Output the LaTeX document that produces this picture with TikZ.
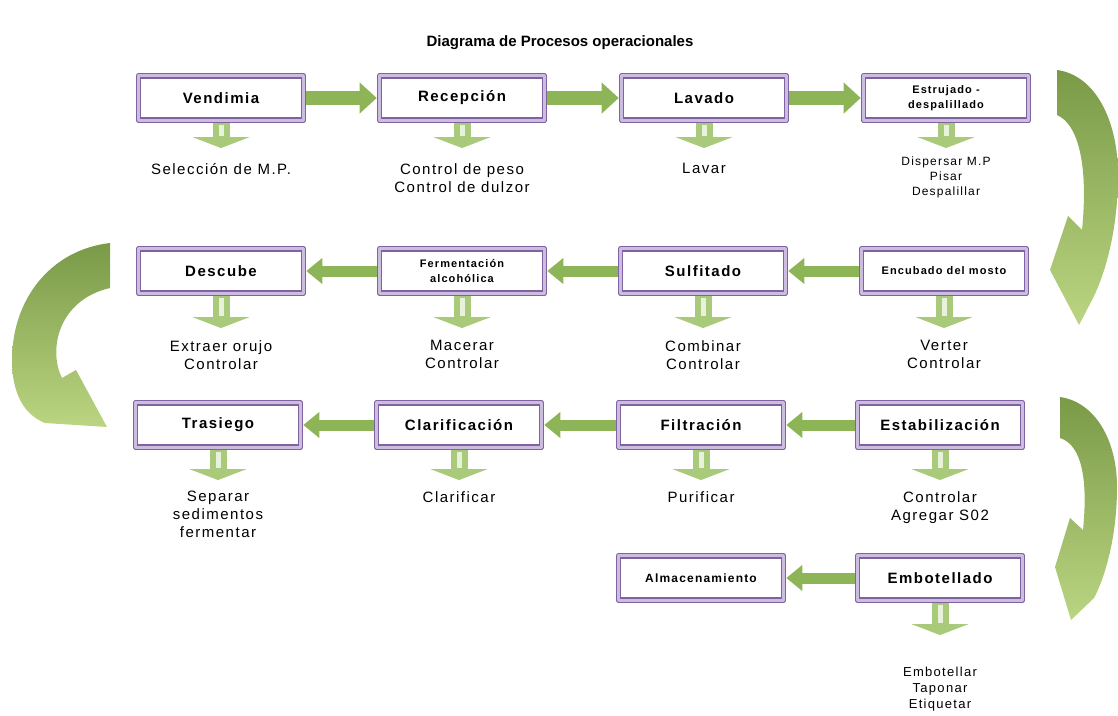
\documentclass[tikz,border=0pt]{standalone}
\usepackage{fontspec}
\setmainfont{Liberation Sans}
\newfontfamily\espaciada[LetterSpace=10]{Liberation Sans}
\usetikzlibrary{arrows.meta,positioning}
\definecolor{morado}{HTML}{7F63A1}
\definecolor{lavanda}{HTML}{CBBCE0}
\definecolor{verde}{HTML}{8DB456}
\definecolor{verdeclaro}{HTML}{A9CA7B}
\definecolor{verdepalido}{HTML}{E8F1D9}
\definecolor{verdeoscuro}{HTML}{7A9A48}
\definecolor{verdeluz}{HTML}{BBD582}
\tikzset{
  caja/.style={draw=morado, line width=1.5pt, double=lavanda, double distance=2.6pt, fill=white,
    minimum width=165pt, minimum height=44.5pt, inner sep=1pt, outer sep=2.8pt, align=center,
    font=\espaciada\bfseries\fontsize{15}{17}\selectfont},
  cajita/.style={caja, font=\espaciada\bfseries\fontsize{11}{15}\selectfont},
  rotulo/.style={align=center, inner sep=0pt, font=\espaciada\fontsize{15}{18}\selectfont},
  rotulito/.style={rotulo, font=\espaciada\fontsize{12}{15}\selectfont},
  derecha/.style={draw=verde, line width=14pt, -{Triangle[width=30pt,length=17pt]}},
  izquierda/.style={draw=verde, line width=11pt, -{Triangle[width=25pt,length=16pt]}},
  bajada/.style={draw=verdeclaro, line width=17pt, -{Triangle[width=57pt,length=11pt]}, shorten >=#1},
  franja/.style={draw=verdepalido, line width=5pt, shorten >=#1, shorten <=2pt},
  curva/.style={top color=verdeoscuro, bottom color=verdeluz},
}
\begin{document}
\begin{tikzpicture}[x=1pt, y=-1pt, line join=round]
  \useasboundingbox (0,0) rectangle (1118,715);
  \node[font=\bfseries\fontsize{15}{17}\selectfont] (titulo) at (560,43) {Diagrama de Procesos operacionales};

  % fila 1
  \node[caja] (vend) at (221,98) {Vendimia};
  \node[caja] (rece) at (462,98) {Recepción};
  \node[caja] (lava) at (704,98) {Lavado};
  \node[cajita] (estr) at (946,98) {Estrujado -\\despalillado};
  \node[rotulo, below=40pt of vend] (vendl) {Selección de M.P.};
  \node[rotulo, below=40pt of rece] (recel) {Control de peso\\Control de dulzor};
  \node[rotulo, below=40pt of lava] (laval) {Lavar};
  \node[rotulito, below=34pt of estr] (estrl) {Dispersar M.P\\Pisar\\Despalillar};

  % fila 2
  \node[caja] (desc) at (221,271) {Descube};
  \node[cajita] (ferm) at (462,271) {Fermentación\\alcohólica};
  \node[caja] (sulf) at (703,271) {Sulfitado};
  \node[cajita] (encu) at (944,271) {Encubado del mosto};
  \node[rotulo, below=44pt of desc] (descl) {Extraer orujo\\Controlar};
  \node[rotulo, below=44pt of ferm] (ferml) {Macerar\\Controlar};
  \node[rotulo, below=44pt of sulf] (sulfl) {Combinar\\Controlar};
  \node[rotulo, below=44pt of encu] (encul) {Verter\\Controlar};

  % fila 3
  \node[caja] (tras) at (218,425) {Trasiego};
  \node[caja] (clar) at (459,425) {Clarificación};
  \node[caja] (filt) at (701,425) {Filtración};
  \node[caja] (esta) at (940,425) {Estabilización};
  \node[rotulo, below=41pt of tras] (trasl) {Separar\\sedimentos\\fermentar};
  \node[rotulo, below=41pt of clar] (clarl) {Clarificar};
  \node[rotulo, below=41pt of filt] (filtl) {Purificar};
  \node[rotulo, below=41pt of esta] (estal) {Controlar\\Agregar S02};

  % fila 4
  \node[cajita, font=\espaciada\bfseries\fontsize{12}{14}\selectfont] (alma) at (701,578) {Almacenamiento};
  \node[caja] (embo) at (940,578) {Embotellado};
  \node[rotulo, font=\espaciada\fontsize{13}{16}\selectfont, below=64pt of embo] (embol) {Embotellar\\Taponar\\Etiquetar};

  % flechas entre etapas
  \draw[derecha] (vend) -- (rece);
  \draw[derecha] (rece) -- (lava);
  \draw[derecha] (lava) -- (estr);
  \draw[izquierda] (encu) -- (sulf);
  \draw[izquierda] (sulf) -- (ferm);
  \draw[izquierda] (ferm) -- (desc);
  \draw[izquierda] (esta) -- (filt);
  \draw[izquierda] (filt) -- (clar);
  \draw[izquierda] (clar) -- (tras);
  \draw[izquierda] (embo) -- (alma);

  % flechas hacia las tareas
  \draw[bajada=15pt] (vend.south) -- (vendl.north);
  \draw[franja=27pt] (vend.south) -- (vendl.north);
  \draw[bajada=15pt] (rece.south) -- (recel.north);
  \draw[franja=27pt] (rece.south) -- (recel.north);
  \draw[bajada=15pt] (lava.south) -- (laval.north);
  \draw[franja=27pt] (lava.south) -- (laval.north);
  \draw[bajada=9pt] (estr.south) -- (estrl.north);
  \draw[franja=21pt] (estr.south) -- (estrl.north);
  \draw[bajada=12pt] (desc.south) -- (descl.north);
  \draw[franja=24pt] (desc.south) -- (descl.north);
  \draw[bajada=12pt] (ferm.south) -- (ferml.north);
  \draw[franja=24pt] (ferm.south) -- (ferml.north);
  \draw[bajada=12pt] (sulf.south) -- (sulfl.north);
  \draw[franja=24pt] (sulf.south) -- (sulfl.north);
  \draw[bajada=12pt] (encu.south) -- (encul.north);
  \draw[franja=24pt] (encu.south) -- (encul.north);
  \draw[bajada=11pt] (tras.south) -- (trasl.north);
  \draw[franja=23pt] (tras.south) -- (trasl.north);
  \draw[bajada=11pt] (clar.south) -- (clarl.north);
  \draw[franja=23pt] (clar.south) -- (clarl.north);
  \draw[bajada=11pt] (filt.south) -- (filtl.north);
  \draw[franja=23pt] (filt.south) -- (filtl.north);
  \draw[bajada=11pt] (esta.south) -- (estal.north);
  \draw[franja=23pt] (esta.south) -- (estal.north);
  \draw[bajada=32pt] (embo.south) -- (embol.north);
  \draw[franja=44pt] (embo.south) -- (embol.north);

  % flechas curvas de cambio de fila
  \shade[curva]
    (1057,70) .. controls (1095,75) and (1118,120) .. (1118,175)
    .. controls (1118,230) and (1105,275) .. (1092,300) -- (1079,325) -- (1050,270)
    -- (1068,216) -- (1082,230) .. controls (1088,170) and (1080,125) .. (1057,115) -- cycle;
  \shade[curva]
    (110,243) .. controls (50,250) and (12,300) .. (12,360)
    .. controls (12,395) and (25,415) .. (45,423) -- (107,427) -- (76,370) -- (62,378)
    .. controls (48,350) and (58,300) .. (110,288) -- cycle;
  \shade[curva]
    (1060,397) .. controls (1095,402) and (1117,440) .. (1117,487)
    .. controls (1117,535) and (1106,575) .. (1094,598) -- (1071,620) -- (1055,567)
    -- (1070,518) -- (1083,530) .. controls (1088,480) and (1082,445) .. (1060,438) -- cycle;
\end{tikzpicture}
\end{document}
